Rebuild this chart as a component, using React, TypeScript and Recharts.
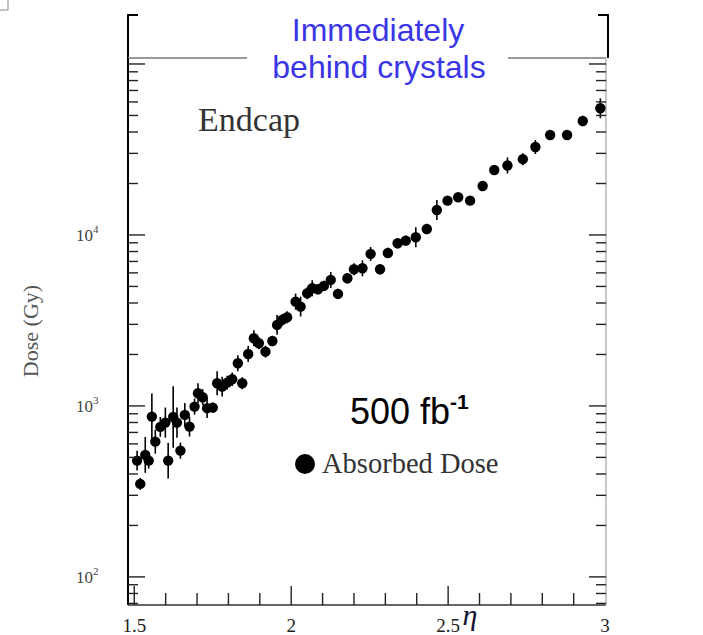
import React from "react";
import { ScatterChart, Scatter, XAxis, YAxis, ErrorBar } from "recharts";

// ---- data ----
const ETA = [1.509,1.519,1.535,1.546,1.556,1.567,1.583,1.599,1.608,1.624,1.636,1.647,1.661,1.676,1.692,1.703,1.718,1.732,1.750,1.764,1.780,1.796,1.812,1.830,1.844,1.863,1.881,1.897,1.918,1.940,1.955,1.971,1.987,2.014,2.030,2.051,2.067,2.085,2.104,2.126,2.149,2.179,2.200,2.227,2.253,2.283,2.308,2.339,2.365,2.397,2.432,2.464,2.498,2.532,2.570,2.610,2.647,2.689,2.738,2.778,2.825,2.879,2.929,2.985];
const DOSE = [479,350,517,479,866,618,754,799,479,862,799,548,886,757,991,1187,1124,970,977,1358,1297,1369,1433,1777,1358,2014,2489,2327,2078,2399,2977,3184,3303,4074,3809,4561,4878,4814,5033,5457,4519,5584,6301,6384,7745,6301,7848,8943,9262,9694,10840,14000,15870,16610,15870,19340,23990,25500,27750,32710,38440,38440,46420,55080];
// half-length of vertical error bars, in decades (log10 units)
const ERR_DECADES = [0.058,0.035,0.105,0.047,0.135,0.07,0.058,0.088,0.105,0.18,0.088,0.047,0.07,0.058,0.047,0.058,0.047,0.058,0.03,0.07,0.058,0.04,0.04,0.047,0.035,0.047,0.047,0.035,0.035,0.03,0.058,0.035,0.035,0.047,0.058,0.035,0.047,0.03,0.03,0.047,0.03,0.03,0.035,0.047,0.041,0.03,0.03,0.03,0.03,0.058,0.03,0.058,0.023,0.023,0.023,0.023,0.023,0.047,0.035,0.041,0.023,0.023,0.03,0.058];

const X_TICKS = [1.5,1.6,1.7,1.8,1.9,2.0,2.1,2.2,2.3,2.4,2.5,2.6,2.7,2.8,2.9,3.0];
const X_LABELS = [1.5, 2, 2.5, 3];
const X_MAJOR = [1.5, 2, 2.5, 3];
const TOP_TICKS = [1.5,1.6,1.7,1.8,2.7,2.8,2.9];
const Y_TICKS = [70,80,90,100,200,300,400,500,600,700,800,900,1000,2000,3000,4000,5000,6000,7000,8000,9000,10000,20000,30000,40000,50000,60000,70000,80000,90000,100000];
const Y_DECADES = [100, 1000, 10000, 100000];
const Y_LABELS: Record<number, string> = { 100: "2", 1000: "3", 10000: "4" };
const X_DOMAIN = [1.48, 3.003];
const Y_DOMAIN = [68.5, 108400];

const TITLE = ["Immediately", "behind crystals"];
const REGION = "Endcap";
const LUMI = "500 fb";
const LUMI_EXP = "-1";
const SERIES_NAME = "Absorbed Dose";
const Y_TITLE = "Dose (Gy)";
const X_TITLE = "\u03b7";

const data = ETA.map((x, i) => {
  const v = DOSE[i];
  const d = ERR_DECADES[i];
  return { x, y: v, err: [v * (1 - Math.pow(10, -d)), v * (Math.pow(10, d) - 1)] };
});

// ---- layout ----
const W = 703, H = 635;
const PL = 128, PR = 606, PT = 58, PB = 605;
const SERIF = "'Liberation Serif', 'Times New Roman', serif";
const SANS = "'Liberation Sans', Arial, sans-serif";
const TICK = "#222";

const near = (a: number, list: number[]) => list.some((b) => Math.abs(a - b) < 1e-6);

const LeftTick = (p: any) => {
  const { x, y, payload } = p;
  const v = payload.value;
  const major = near(v, Y_DECADES);
  const len = major ? 17 : 10;
  return (
    <g>
      <line x1={x} x2={x + len} y1={y} y2={y} stroke={TICK} strokeWidth={1.4} />
      {Y_LABELS[v] && (
        <text x={x - 52} y={y + 6} fontFamily={SERIF} fontSize={17} fill="#444">
          10<tspan dy={-8} fontSize={11}>{Y_LABELS[v]}</tspan>
        </text>
      )}
    </g>
  );
};

const RightTick = (p: any) => {
  const { x, y, payload } = p;
  const major = near(payload.value, Y_DECADES);
  const len = major ? 17 : 10;
  return <line x1={x} x2={x - len} y1={y} y2={y} stroke={TICK} strokeWidth={1.4} />;
};

const BottomTick = (p: any) => {
  const { x, y, payload } = p;
  const v = payload.value;
  const major = near(v, X_MAJOR);
  const len = major ? 19 : 12;
  return (
    <g>
      {v < 2.99 && <line x1={x} x2={x} y1={y} y2={y - len} stroke={TICK} strokeWidth={1.4} />}
      {near(v, X_LABELS) && (
        <text x={x} y={y + 27} textAnchor="middle" fontFamily={SERIF} fontSize={19} fill="#222">
          {String(v)}
        </text>
      )}
    </g>
  );
};

const TopTick = (p: any) => {
  const { x, y, payload } = p;
  const major = near(payload.value, [1.5]);
  return (
    <line x1={x} x2={x} y1={y - (major ? 21 : 11)} y2={y + 11} stroke={TICK} strokeWidth={1.4} />
  );
};

const Dot = (p: any) => <circle cx={p.cx} cy={p.cy} r={5.2} fill="#000" />;

export default function App() {
  return (
    <>
      <style>{`body{margin:0}`}</style>
      <ScatterChart
        width={W}
        height={H}
        margin={{ top: PT - 10, right: W - PR - 10, bottom: 0, left: PL - 60 }}
      >
        <XAxis
          xAxisId={0}
          dataKey="x"
          type="number"
          domain={X_DOMAIN}
          allowDataOverflow
          ticks={X_TICKS}
          interval={0}
          height={H - PB}
          tickSize={0}
          tickMargin={0}
          tickLine={false}
          axisLine={{ stroke: "#666", strokeWidth: 2 }}
          tick={<BottomTick />}
        />
        <XAxis
          xAxisId="top"
          orientation="top"
          type="number"
          domain={X_DOMAIN}
          allowDataOverflow
          ticks={TOP_TICKS}
          interval={0}
          height={10}
          tickSize={0}
          tickMargin={0}
          tickLine={false}
          axisLine={false}
          tick={<TopTick />}
        />
        <YAxis
          yAxisId={0}
          dataKey="y"
          type="number"
          scale="log"
          domain={Y_DOMAIN}
          allowDataOverflow
          ticks={Y_TICKS}
          interval={0}
          width={60}
          tickSize={0}
          tickMargin={0}
          tickLine={false}
          axisLine={{ stroke: "#000", strokeWidth: 2 }}
          tick={<LeftTick />}
        />
        <YAxis
          yAxisId="right"
          orientation="right"
          type="number"
          scale="log"
          domain={Y_DOMAIN}
          allowDataOverflow
          ticks={Y_TICKS}
          interval={0}
          width={10}
          tickSize={0}
          tickMargin={0}
          tickLine={false}
          axisLine={{ stroke: "#c8c8c8", strokeWidth: 2 }}
          tick={<RightTick />}
        />
        <Scatter data={data} fill="#000" shape={<Dot />} isAnimationActive={false}>
          <ErrorBar dataKey="err" direction="y" width={0} stroke="#000" strokeWidth={1.6} />
        </Scatter>

        {/* frame decorations */}
        <polyline points="0,10 8,10 8,0" fill="none" stroke="#888" strokeWidth={1} />
        <polyline points={`${PL + 10},15 ${PL},15 ${PL},${PT}`} fill="none" stroke="#000" strokeWidth={2} />
        <polyline points={`${PR - 8},15 ${PR + 2},15 ${PR + 2},${PT}`} fill="none" stroke="#000" strokeWidth={2} />
        <line x1={PL} x2={247} y1={PT} y2={PT} stroke="#999" strokeWidth={2} />
        <line x1={508} x2={PR} y1={PT} y2={PT} stroke="#999" strokeWidth={2} />

        {/* titles */}
        <text x={378} y={41} textAnchor="middle" fontFamily={SANS} fontSize={32} fill="#3a36e6">{TITLE[0]}</text>
        <text x={379} y={78} textAnchor="middle" fontFamily={SANS} fontSize={32} fill="#3a36e6">{TITLE[1]}</text>
        <text x={249} y={131} textAnchor="middle" fontFamily={SERIF} fontSize={34} fill="#333">{REGION}</text>
        <text x={350} y={424} fontFamily={SANS} fontSize={36} fill="#000">
          {LUMI}
          <tspan dy={-15} fontSize={21} fontWeight="bold">{LUMI_EXP}</tspan>
        </text>
        <circle cx={305} cy={464} r={10} fill="#000" />
        <text x={322} y={473} fontFamily={SERIF} fontSize={28.5} fill="#333">{SERIES_NAME}</text>
        <text
          x={30}
          y={331}
          transform="rotate(-90 30 331)"
          textAnchor="middle"
          dominantBaseline="central"
          fontFamily={SERIF}
          fontSize={22}
          fill="#555"
        >
          {Y_TITLE}
        </text>
        <text x={470} y={625} textAnchor="middle" fontFamily={SERIF} fontStyle="italic" fontSize={30} fill="#111133">
          {X_TITLE}
        </text>
      </ScatterChart>
    </>
  );
}
